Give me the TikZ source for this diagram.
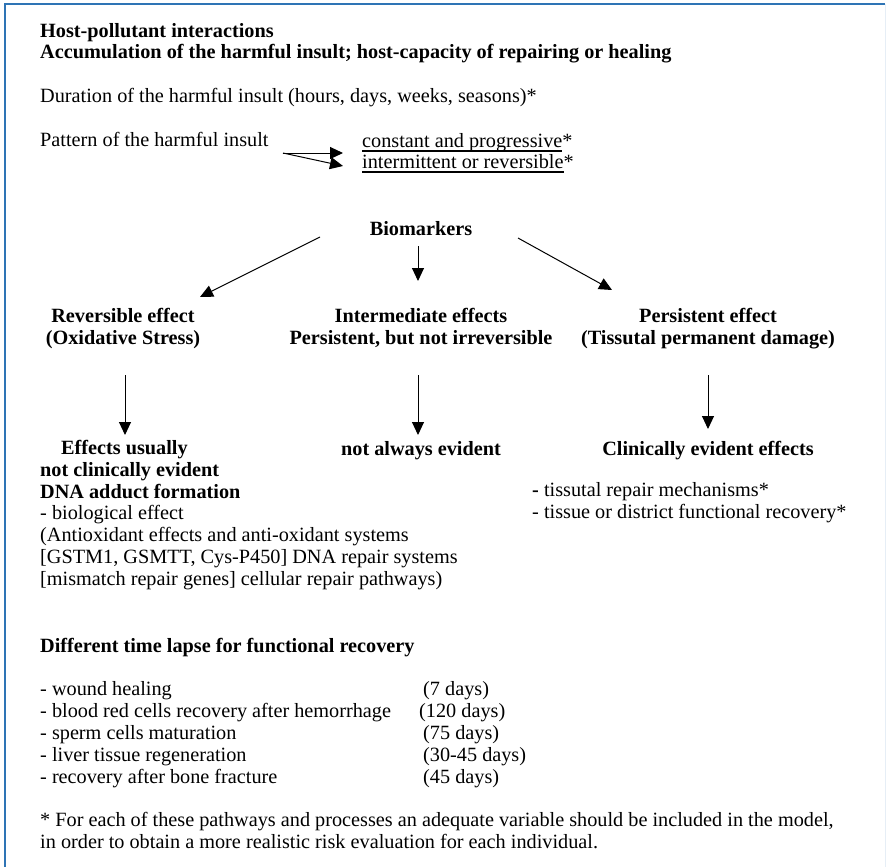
\documentclass[tikz,border=0pt]{standalone}
\usepackage{fontspec}
\setmainfont{Liberation Serif}
\usepackage{tikz}
\usetikzlibrary{arrows.meta}
\definecolor{frameblue}{RGB}{46,116,181}
\newcommand{\undl}[1]{\setbox0\hbox{#1}\rlap{\rule[-4.5pt]{\wd0}{1.1pt}}\box0}

\begin{document}
\begin{tikzpicture}[x=1pt, y=-1pt, font=\fontsize{20.25}{21.7}\selectfont,
    every node/.style={inner sep=0pt},
    txt/.style={anchor=base west, align=left},
    head/.style={anchor=base, align=center, font=\fontsize{20.25}{21.7}\selectfont\bfseries},
    arr/.style={-{Triangle[length=13pt,width=12pt]}, line width=1pt}]
  \useasboundingbox (0,0) rectangle (886,867);
  % frame
  \draw[frameblue, line width=2pt] (4.5,867) -- (4.5,4.5) -- (885,4.5);
  \draw[frameblue!12, line width=1pt] (885,4.5) -- (885,867);

  % header (base = last line)
  \node[txt, font=\fontsize{20.25}{21.7}\selectfont\bfseries] (H) at (40,59) {Host-pollutant interactions\\Accumulation of the harmful insult; host-capacity of repairing or healing};
  \node[txt] (D) at (40,102) {Duration of the harmful insult (hours, days, weeks, seasons)*};
  \node[txt] (P) at (40,146) {Pattern of the harmful insult};
  \node[txt] (C1) at (362,147) {\undl{constant and progressive}*};
  \node[txt] (C2) at (362,168) {\undl{intermittent or reversible}*};
  \coordinate (P0) at (283,153);
  \coordinate (P1) at (343,153);
  \coordinate (P2) at (343,166);
  \draw[arr] (P0) -- (P1);
  \draw[arr] (P0) -- (P2);

  % biomarkers
  \node[head] (B) at (421,235) {Biomarkers};
  \coordinate (B1) at (320,237);
  \coordinate (B2) at (418,246);
  \coordinate (B3) at (518,238);
  \coordinate (R0) at (200,297);
  \coordinate (I0) at (418,281);
  \coordinate (T0) at (612,290);
  \draw[arr] (B1) -- (R0);
  \draw[arr] (B2) -- (I0);
  \draw[arr] (B3) -- (T0);

  \node[head] (R) at (123,344) {Reversible effect\\(Oxidative Stress)};
  \node[head] (I) at (421,344) {Intermediate effects\\Persistent, but not irreversible};
  \node[head] (T) at (708,344) {Persistent effect\\(Tissutal permanent damage)};

  \coordinate (R1) at (125,375);
  \coordinate (R2) at (125,435);
  \coordinate (I1) at (418,375);
  \coordinate (I2) at (418,435);
  \coordinate (T1) at (708,375);
  \coordinate (T2) at (708,429);
  \draw[arr] (R1) -- (R2);
  \draw[arr] (I1) -- (I2);
  \draw[arr] (T1) -- (T2);

  % effects
  \node[txt] (E1) at (40,585) {\textbf{\hspace*{21pt}Effects usually}\\\textbf{not clinically evident}\\\textbf{DNA adduct formation}\\- biological effect\\(Antioxidant effects and anti-oxidant systems\\{[}GSTM1, GSMTT, Cys-P450] DNA repair systems\\{[}mismatch repair genes] cellular repair pathways)};
  \node[head] (E2) at (421,455) {not always evident};
  \node[head] (E3) at (708,455) {Clinically evident effects};
  \node[txt] (E4) at (532,518) {\textbf{-} tissutal repair mechanisms*\\- tissue or district functional recovery*};

  % recovery times
  \node[txt, font=\fontsize{20.25}{21.7}\selectfont\bfseries] (L) at (40,652) {Different time lapse for functional recovery};
  \foreach \lbl/\dur/\dx [count=\i] in {wound healing/7 days/423, blood red cells recovery after hemorrhage/120 days/419, sperm cells maturation/75 days/423, liver tissue regeneration/30-45 days/423, recovery after bone fracture/45 days/423}{
    \node[txt] (L\i) at (40,673+22*\i) {- \lbl};
    \node[txt] (N\i) at (\dx,673+22*\i) {(\dur)};
  }

  \node[txt] (F) at (40,848) {* For each of these pathways and processes an adequate variable should be included in the model,\\in order to obtain a more realistic risk evaluation for each individual.};
\end{tikzpicture}
\end{document}
